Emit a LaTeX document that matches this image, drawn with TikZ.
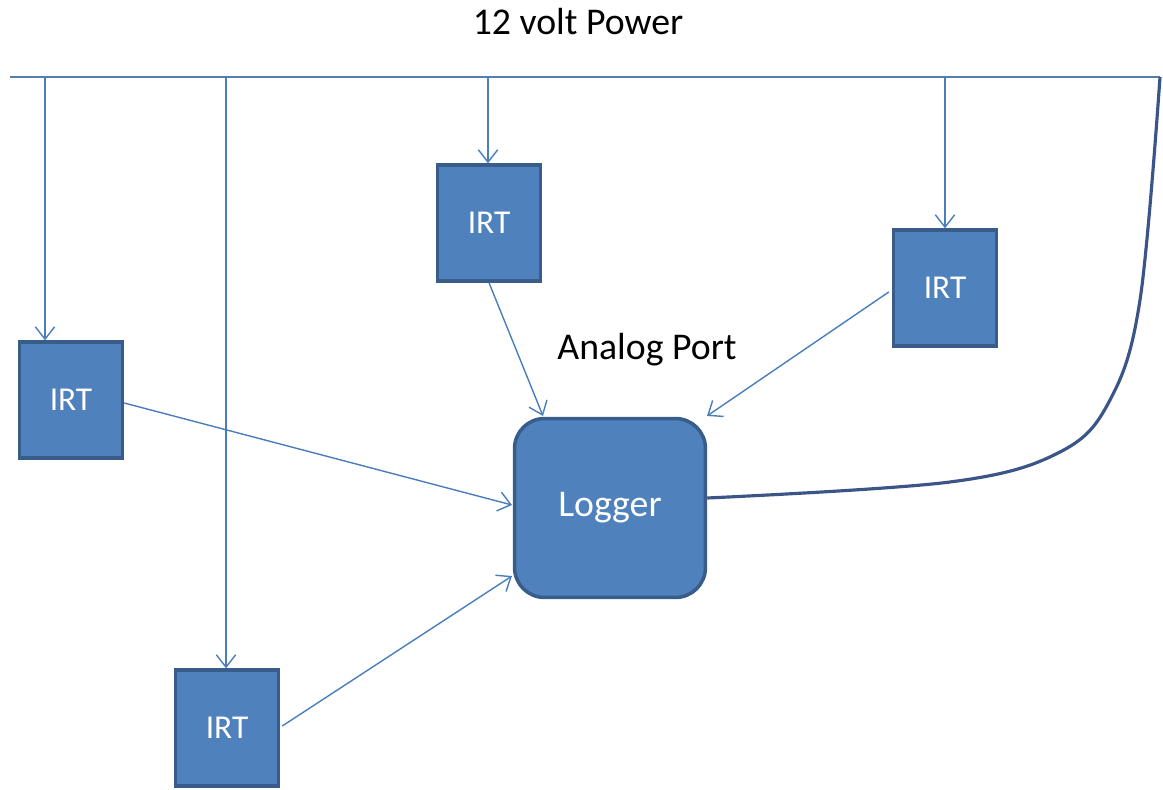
\documentclass[tikz,border=0pt]{standalone}
\usepackage{fontspec}
\setmainfont{Carlito}
\usetikzlibrary{arrows.meta}
\definecolor{boxfill}{HTML}{4F81BD}
\definecolor{boxline}{HTML}{385D8A}
\definecolor{wire}{HTML}{4A7EBB}
\definecolor{cable}{HTML}{3B5588}
\begin{document}
\begin{tikzpicture}[x=0.02cm,y=-0.02cm,
  irt/.style={draw=boxline,fill=boxfill,line width=2pt,minimum width=2.06cm,minimum height=2.32cm,text=white,font=\fontsize{19}{23}\selectfont},
  logger/.style={irt,rounded corners=0.6cm,minimum width=3.82cm,minimum height=3.58cm,font=\fontsize{21.5}{26}\selectfont},
  label/.style={font=\fontsize{21.5}{26}\selectfont},
  feed/.style={draw=wire,line width=0.8pt,-{Straight Barb[length=7pt,width=11pt]}}]
\useasboundingbox (0,0) rectangle (1163,790);
\node[label] (title) at (578,22) {12 volt Power};
\coordinate (busL) at (10,77);
\coordinate (busR) at (1160,77);
\draw[draw=wire!80!gray,line width=0.8pt] (busL) -- (busR);
\node[irt] (irtA) at (71,400) {IRT};
\node[irt] (irtB) at (489,223) {IRT};
\node[irt] (irtC) at (945,288) {IRT};
\node[irt] (irtD) at (227,728) {IRT};
\node[logger] (log) at (610,508) {Logger};
\node[label] (port) at (647,350) {Analog Port};
% taps off the supply line
\coordinate (tapA) at (45,77);
\coordinate (tapB) at (488,77);
\coordinate (tapC) at (945,77);
\coordinate (tapD) at (226,77);
\draw[feed] (tapA) -- (tapA |- irtA.north);
\draw[feed] (tapB) -- (tapB |- irtB.north);
\draw[feed] (tapC) -- (tapC |- irtC.north);
\draw[feed] (tapD) -- (tapD |- irtD.north);
% signals into the logger
\draw[feed] (irtA.east) ++(0,3) -- (512,505);
\draw[feed] (irtB.south) -- (543,416);
\draw[feed] (irtC.west) ++(-3,4) -- (707,416);
\draw[feed] (irtD.east) ++(2,-2) -- (512,576);
% logger back to the supply
\coordinate (logOut) at ([yshift=0.2cm]log.east);
\draw[cable,line width=1.8pt] plot[smooth,tension=0.6] coordinates {(logOut) (950,482) (1060,452)
  (1110,400) (1140,300) (busR)};
\end{tikzpicture}
\end{document}
